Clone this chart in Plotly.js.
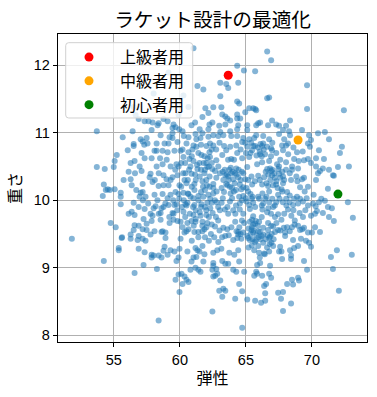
<!DOCTYPE html>
<html><head><meta charset="utf-8">
<script src="https://cdn.plot.ly/plotly-3.0.0.min.js"></script>
<style>html,body{margin:0;padding:0;background:#fff}</style></head>
<body><div id="c" style="width:377px;height:397px"></div>
<script>
const chartTitle="ラケット設計の最適化", xLabel="弾性", yLabel="重さ";
const xTicks=[55,60,65,70], yTicks=[8,9,10,11,12];
const specialNames=["上級者用","中級者用","初心者用"];
const specialColors=["red","orange","green"];
const specialX=[63.66,68.95,71.97];
const specialY=[11.85,10.89,10.09];
const upperRight=[[66.61,12.2],[66.91,12.07],[64.34,11.99],[64.85,11.92],[65.7,11.91],[64.42,11.74],[63.06,11.74],[63.51,11.72],[63.66,11.66],[69.63,11.7],[63.06,11.54],[66.61,11.51],[66.76,11.52],[64.34,11.46],[64.49,11.43],[62.53,11.375],[63.14,11.375],[65.25,11.36],[65.55,11.36],[65.7,11.35],[65.78,11.33],[69.63,11.35],[72.42,11.33],[64.95,11.3],
[63.21,11.27],[64.34,11.27],[63.44,11.24],[63.59,11.21],[64.34,11.21],[64.57,11.21],[63.81,11.18],[63.44,11.12],[62.46,11.15],[66.98,11.18],[68.34,11.18],[66.08,11.15],[65.93,11.14],[65.78,11.11],[67.29,11.12],[66.68,11.11],[67.51,11.1],[68.04,11.1],[65.1,11.11],[64.42,11.11],[62.98,11.1],[64.34,11.05],[65.1,11.04],[63.81,11.02],[63.06,11.01],[67.81,11.04],[68.27,11.02],[69.25,11.04],[67.51,10.98],[68.34,10.96],[70.46,10.99],[70.98,11.01],[69.78,10.96],[71.29,10.9],[69.93,10.89],[69.7,10.84],[66.76,10.9],[65.63,10.92],[65.25,10.9],[66.31,10.95],[65.78,10.96],[64.8,10.92],[64.34,10.95],[63.89,10.95],[63.29,10.96],[62.91,10.95],[62.53,10.96],[68.19,10.84],[68.04,10.81],[67.74,10.81],[66.31,10.84],[66.23,10.8],[65.55,10.8],[65.1,10.79],[64.72,10.86],[64.27,10.81],[63.81,10.79],[63.51,10.74],[62.53,10.81],[62.28,10.84],[66.91,10.77],[66.98,10.74],[67.81,10.74],[68.87,10.71],[69.85,10.79],[70.53,10.74],[72.27,10.79],[72.12,10.7],[70.91,10.61],[70.31,10.62],[69.7,10.61],[69.4,10.59],[68.65,10.61],[68.04,10.56],[67.36,10.53],[66.76,10.58],[66.23,10.56],[66.08,10.68],[65.47,10.74],[65.25,10.64],[64.72,10.62],[64.34,10.7],[63.89,10.61],[63.21,10.67],[62.76,10.59],[62.28,10.64],[69.93,10.55],[70.31,10.5],[72.8,10.5],[71.97,10.49],[71.29,10.45],[70.83,10.47],[70.61,10.43],[70.46,10.4],[71.59,10.37],[71.66,10.36],[69.4,10.33],[69.25,10.31],[70.31,10.3],[68.95,10.47],[68.49,10.45],[68.04,10.45],[67.51,10.5],[66.83,10.47],[66.61,10.46],[65.85,10.53],[65.1,10.49],[64.27,10.47],[63.74,10.45],[63.89,10.4],[63.44,10.37],[62.91,10.5],[62.46,10.46],[64.8,10.4],[64.95,10.31],[64.42,10.34],[64.04,10.31],[62.76,10.33],[63.51,10.24],[62.53,10.24],[65.93,10.36],[66.38,10.34],[66.98,10.37],[67.51,10.39],[68.42,10.3],[67.81,10.25],[67.29,10.23],[66.68,10.21],[66.23,10.23],[65.47,10.23],[64.8,10.19],[69.1,10.19],[71.21,10.17],
[62.41,10.55],[63.03,10.4],[62.66,10.43],[63.29,10.3],[63.66,10.35],[64.17,10.4],[63.79,10.2],[64.54,10.23],[65.17,10.3],[65.42,10.35],[65.68,10.28],[66.05,10.3],[66.56,10.25],[66.93,10.43],[67.19,10.33],[67.81,10.35],[68.32,10.4],[68.82,10.35],[62.53,10.18],[63.16,10.18],[65.05,10.18],
[62.53,10.1],[62.78,10.13],[63.34,10.12],[63.84,10.1],[64.09,10.13],[64.49,10.05],[64.8,10.06],[65.17,10.13],[65.35,10.09],[65.5,10.05],[65.93,10.05],[66.25,10.1],[66.56,10.05],[66.76,10.13],[67.44,10.08],[67.76,10.13],[68.12,10.12],[68.32,10.07],[68.87,10.05],[69.45,10.13],[70.13,10.08],[70.71,10.02],
[63.4,10.45],[63.55,10.38],[63.7,10.3],[63.85,10.48],[64,10.42],[64.15,10.25],[64.3,10.38],[64.45,10.45],[64.6,10.3],[64.7,10.42],[63.25,10.42],[63.6,10.22],[63.95,10.18],[64.25,10.15],[64.65,10.16],
[66.7,10.38],[66.85,10.3],[67,10.45],[67.15,10.4],[67.3,10.28],[67.45,10.46],[67.6,10.33],[67.75,10.42],[67.9,10.3],[66.5,10.42],[67.05,10.22],[67.4,10.18],[67.7,10.16],
[65.9,10.78],[66.05,10.72],[66.2,10.65],[66.35,10.75],[66.45,10.68],[65.8,10.66],[66.1,10.83],[66.6,10.79],[65.7,10.8],[65.35,10.7],[65,10.7],[64.6,10.75],[64.1,10.6],[63.65,10.6],[63.35,10.8],[63,10.85],[62.75,10.75],[62.4,10.75],[64.95,10.85],[65.4,10.85],[66.9,10.65],[67.3,10.7],[67.6,10.6],[68.2,10.68],[67,10.85],[67.9,10.9],[68.6,10.78],[68.5,10.5],[69,10.58],[69.3,10.72],[68.9,10.28],[69.7,10.2]];
const lowerRight=[[72.72,9.97],[73.1,9.74],[71.66,9.69],[71.29,9.75],[71.51,9.88],[71.21,9.9],[70.98,9.99],[70.83,9.81],[70.53,9.97],[70.38,9.84],[70.23,9.8],[69.93,9.77],[70.23,9.6],[70.61,9.53],[70,9.52],[69.7,9.52],[69.4,9.59],[69.1,9.56],[68.95,9.62],[68.49,9.6],[68.12,9.6],[67.97,9.52],[67.97,9.47],[67.44,9.56],[66.91,9.62],[66.68,9.66],[66.31,9.59],[66,9.68],[65.47,9.71],[64.87,9.66],[64.19,9.68],[63.59,9.57],[63.44,9.47],[62.91,9.38],[64.04,9.41],[64.42,9.53],[64.65,9.43],[65.1,9.47],[65.55,9.52],[66.31,9.49],[66.83,9.46],[67.21,9.53],[68.57,9.41],[69.17,9.43],[69.55,9.4],[69.78,9.37],[69.93,9.31],[68.95,9.32],[68.65,9.29],[68.34,9.26],[67.59,9.31],[67.51,9.24],[66.76,9.24],[66.38,9.21],[66,9.22],[65.63,9.26],[64.42,9.26],[64.12,9.19],[63.74,9.22],[63.14,9.28],[62.83,9.26],[62.53,9.22],[64.49,9.09],[63.66,9.06],[63.21,9.1],[63.44,9.06],[62.53,9.07],[62.53,9.03],[67.74,9.13],[68.42,9.18],[68.42,9.13],[69.4,9.1],[71.89,9.26],[71.44,9.16],[73.02,9.19],[71.59,8.98],[69.63,8.97],[66.83,9.03],[66.08,9.07],[65.85,9.04],[64.87,8.94],[64.27,8.94],[64.04,8.97],[62.76,8.98],[62.46,8.97],[62.83,8.91],[62.53,8.87],[62.68,8.88],[65.78,8.94],[65.85,8.91],[65.63,8.88],[66.23,8.88],[66.76,8.91],[66.91,8.85],[68.95,8.85],[68.49,8.82],[69.02,8.81],[68.12,8.76],[68.57,8.75],[66.53,8.76],[66.38,8.73],[63.06,8.81],[63.29,8.69],[62.98,8.66],[63.44,8.66],[64.49,8.76],[64.72,8.65],[66.46,8.62],[67.44,8.63],[67.81,8.64],[67.66,8.54],[68.42,8.47],[67.81,8.36],[72.04,8.66],[63.21,8.57],[64.19,8.54],[65.1,8.53],[65.7,8.51],[66.15,8.48],[66.46,8.51],[62.46,8.35],[64.72,8.11],
[62.41,9.96],[62.78,9.97],[63.16,9.96],[63.79,9.98],[64.54,9.95],[65.05,9.98],[65.55,9.96],[66.31,9.95],[66.76,9.97],[67.19,9.92],[68.07,9.92],[68.57,9.93],[68.95,9.95],[69.32,9.98],[69.7,9.92],[70.08,9.95],
[62.48,9.81],[62.73,9.75],[63.03,9.85],[63.41,9.86],[63.66,9.8],[64.04,9.85],[64.54,9.86],[64.8,9.8],[65.3,9.87],[65.55,9.76],[65.75,9.69],[66.25,9.86],[66.61,9.82],[67.06,9.9],[67.44,9.79],[67.69,9.71],[68.19,9.86],[68.44,9.77],[69.07,9.81],[69.32,9.75],[70.28,9.91],
[62.41,9.64],[62.66,9.61],[63.29,9.59],[64.29,9.54],[64.42,9.49],[64.8,9.52],[65.17,9.44],[65.42,9.56],[65.55,9.64],[65.93,9.54],[66.18,9.47],[66.68,9.56],[66.76,9.44],[67.06,9.61],[67.31,9.66],[67.87,9.59],[68.32,9.54],[68.69,9.64],[69.27,9.57],
[65.3,9.41],[65.68,9.38],[65.93,9.32],[66.31,9.37],[66.93,9.37],[67.06,9.32],[67.69,9.24],[66.05,9.15],[66.43,9.2],
[65.3,9.68],[65.45,9.6],[65.6,9.55],[65.7,9.65],[65.8,9.48],[65.9,9.62],[66.05,9.53],[66.1,9.42],[65.35,9.5],[65.5,9.42],[65.2,9.58],[65.75,9.4],[65.95,9.45],[66.5,9.42],[66.65,9.48],[66.8,9.35],[66.95,9.5],[67.1,9.42],[66.6,9.3],[65.2,9.3],[65.45,9.33],[64.5,9.6],[64.6,9.5],[64.35,9.44],[64.7,9.7],[64.2,9.8],[63.9,9.6],[63.7,9.48],[63.2,9.45],[63,9.55],[62.6,9.45],[62.35,9.5],[62.9,9.7],
[62.9,9.9],[63.25,10.03],[63.6,9.9],[63.95,10.03],[64.25,9.92],[64.7,10],[65,10.03],[65.25,9.93],[65.45,10.02],[65.7,9.9],[66,10.02],[66.2,9.92],[66.45,10.02],[66.7,9.88],[67,10.02],[67.3,9.97],[67.55,10.02],[67.8,9.97],[68.05,10.02],[68.3,9.97],[68.65,10.02],[69.1,10.02],[69.6,10.03],[67.9,9.8],[67.2,9.75],[66.9,9.8],[66.2,9.75],[68.6,9.85],[69.5,9.85],[62.3,10.02],[62.65,10],[68.7,9.7],[67.6,9.55]];
const lowerLeft=[[51.82,9.43],[54.24,9.1],[54.76,9.66],[55.14,9.6],[55.59,9.44],[55.62,9.45],[55.37,9.29],[55.37,9.26],[56.57,8.92],[57.25,9.04],[56.88,9.28],[57.33,9.23],[57.86,9.19],[57.86,9.15],[58.01,9.18],[58.39,9.18],[58.61,9.15],[59.07,9.19],[59.29,9.26],[58.76,9.25],[58.84,9.31],[59.59,9.24],[59.97,9.28],[59.74,9.1],[59.9,9.15],[58.26,8.98],[58.39,8.22],[59.97,8.64],[59.67,8.82],[60.2,8.76],[59.9,8.9],[60.12,8.91],[60.35,8.87],[60.5,8.82],[60.65,8.79],[60.8,8.97],[61.18,9],[61.56,8.94],[61.4,8.97],[61.78,9.09],[60.88,9.09],[61.03,9.15],[61.25,9.16],[61.86,9.2],[60.57,9.24],[61.18,9.29],[61.33,9.26],[61.48,9.24],[61.71,9.32],[60.05,9.43],[58.91,9.44],[58.91,9.52],[58.69,9.54],[58.61,9.53],[58.08,9.54],[57.78,9.49],[57.4,9.4],[57.18,9.43],[56.88,9.47],[56.8,9.41],[56.27,9.43],[56.27,9.49],[56.5,9.56],[56.57,9.63],[56.88,9.62],[57.18,9.57],[57.48,9.65],[57.48,9.56],[57.25,9.72],[57.86,9.69],[57.93,9.77],[57.78,9.8],[58.54,9.81],[58.54,9.71],[59.22,9.66],[59.52,9.71],[59.82,9.69],[60.05,9.68],[60.35,9.52],[60.65,9.57],[60.5,9.54],[61.1,9.53],[61.4,9.53],[61.71,9.54],[61.86,9.57],[62.01,9.6],[62.08,9.66],[61.71,9.68],[61.18,9.68],[60.88,9.69],[60.57,9.66],[61.03,9.78],[61.56,9.77],[62.01,9.78],[60.27,9.83],[59.52,9.8],[59.44,9.81],[58.61,9.88],[58.76,9.9],[58.16,9.91],[58.01,9.88],[57.33,9.87],[56.88,9.9],[56.5,9.96],[56.35,9.83],[56.12,9.8],[56.57,9.78],[55.52,9.94],[55.52,10.11],[55.52,10.05],[54.16,10.06],[54.39,10.15],[54.69,10.15],[56.95,10.05],[57.03,10.11],[57.18,10.12],[58.08,10.08],[58.69,10.09],[59.07,10.03],[59.29,10.08],[59.67,10.12],[59.9,10.09],[60.27,10.11],[59.59,9.93],[59.74,9.94],[60.42,9.94],[60.57,9.96],[61.1,9.93],[61.63,9.94],[62.08,9.96],[59.14,9.93],[61.03,10.03],[61.4,10.06],[61.78,10.05],[62.16,10.08],[60.65,10.09]];
const upperLeft=[[61.03,12.25],[53.71,11.02],[55.67,10.93],[59.14,11.89],[58.01,11.58],[60.27,11.55],[56.5,11.38],[56.65,11.26],[56.88,11.2],[57.33,11.17],[57.63,11.17],[57.93,11.15],[58.39,11.14],[58.76,11.2],[59.07,11.17],[59.52,11.12],[59.44,11.07],[59.67,11.08],[59.9,11.26],[60.65,11.38],[61.33,11.69],[61.78,11.64],[61.93,11.36],[61.71,11.23],[62.16,11.29],[60.88,11.11],[62.24,11.12],[62.16,11.05],[58.31,11.11],[57.86,11.04],[56.42,11.02],[59.44,10.99],[60.2,11.02],[58.54,10.96],[59.22,10.93],[57.03,10.9],[57.48,10.92],[57.18,10.87],[57.55,10.84],[56.5,10.83],[56.5,10.8],[56.05,10.74],[55.22,10.67],[55.06,10.58],[53.71,10.49],[54.31,10.46],[54.99,10.49],[56.27,10.55],[56.57,10.58],[57.1,10.7],[57.33,10.62],[57.86,10.62],[58.08,10.73],[58.24,10.73],[58.69,10.73],[59.07,10.71],[59.59,10.73],[60.05,10.73],[60.5,10.84],[61.03,10.81],[61.25,10.79],[61.4,10.7],[61.63,10.67],[61.86,10.65],[60.65,10.71],[60.27,10.64],[60.73,10.61],[59.74,10.53],[59.9,10.5],[58.24,10.5],[58.69,10.53],[56.95,10.5],[57.1,10.43],[57.78,10.39],[58.76,10.37],[58.99,10.31],[56.12,10.42],[55.74,10.3],[56.27,10.31],[54.24,10.23],[54.54,10.16],[55.06,10.16],[56.35,10.22],[57.18,10.24],[57.71,10.34],[57.93,10.27],[59.14,10.22],[59.82,10.37],[60.42,10.4],[60.88,10.39],[61.33,10.46],[61.86,10.4],[62.08,10.49],[61.1,10.24],[61.71,10.28],[60.5,10.25],[59.97,10.22],[59.44,10.34],[58.39,10.21],[58.76,10.22],[61.48,10.55],[61.03,10.58],[62.24,10.71],[62.01,10.8],[62.16,10.94],[61.56,10.92],[61.71,10.99],[61.18,10.98],[60.65,10.93],[59.82,10.86],[59.44,10.92],[58.84,10.84],[59.14,10.84],[58.24,10.84],
[60.3,10],[60.8,10.05],[61.2,9.85],[61.6,9.9],[62,9.85],[60.1,10.2],[60.6,10.3],[61.1,10.15],[61.5,10.35],[61.9,10.15],[60.4,10.55],[60.9,10.65],[61.3,10.52],[61.8,10.55],[62.1,10.62],[60.2,10.75],[60.7,10.45],[61.2,9.72],[61.7,9.62],[62.2,9.75],[60.5,9.92],[61,9.9],[61.5,9.82],[62,10.3],[61.4,10],[60.9,10.2],[61.9,10.45],
[60.2,9.6],[60.75,9.8],[60.15,9.9],[59.8,9.85],[59.2,9.75],[58.9,9.95],[58.4,9.8],[58.3,10],[57.6,9.95],[57.2,10],[56.7,10.15],[59.5,10],[59.95,10.02],[60.6,10.1],[61.2,10.3],[61.6,10.12],[62.05,10.22],[60.25,10.4],[59.65,10.45],[59.3,10.5],[59,10.6],[58.5,10.62],[60.35,10.3],[60.8,10.5],[61.6,10.45],[61.15,10.38],[61.75,10.2],[62.25,10.35],[61.25,10.9],[60.3,10.95],[59.95,11.05],[61.15,11.15],[61.5,11.05],[60.1,10.55],[59.3,10.3],[58.1,10.3],[57.4,10.05],[56.6,10.4],[58.4,10.4],[57.3,10.82],[60.4,9.75],[61.4,9.45],[60.9,9.4],[62.2,9.4],[61.9,9.45],[61.05,9.62],[61.9,9.9],[62.3,9.88],[62.25,10.2],[62.2,10.5],[62,10.55],[61.6,10.82],[60.95,10.75]];
const samples=[...upperRight,...lowerRight,...lowerLeft,...upperLeft];
const ff="'Noto Sans CJK JP'";
const traces=[{type:"scatter",mode:"markers",x:samples.map(p=>p[0]),y:samples.map(p=>p[1]),showlegend:false,hoverinfo:"skip",
 marker:{color:"#1f77b4",size:6,opacity:0.55,line:{width:0}}}];
specialNames.forEach((n,i)=>traces.push({type:"scatter",mode:"markers",name:n,x:[specialX[i]],y:[specialY[i]],
 marker:{color:specialColors[i],size:9,line:{width:0}}}));
const axisStyle={showline:true,mirror:true,linecolor:"black",linewidth:1.2,ticks:"outside",ticklen:4,tickcolor:"black",tickwidth:1,
 showgrid:true,gridcolor:"#b0b0b0",gridwidth:1,zeroline:false,tickfont:{family:"'Liberation Sans'",size:14.5,color:"#000"}};
const W=309,H=308,L=58,T=34;
const fx=p=>((p-L)/W).toFixed(4), fy=p=>(1-(p-T)/H).toFixed(4);
const a=65.7,b=192.7,c=42.7,d=118,r=3;
const box=`M${fx(a+r)},${fy(c)} L${fx(b-r)},${fy(c)} Q${fx(b)},${fy(c)} ${fx(b)},${fy(c+r)} L${fx(b)},${fy(d-r)} Q${fx(b)},${fy(d)} ${fx(b-r)},${fy(d)} L${fx(a+r)},${fy(d)} Q${fx(a)},${fy(d)} ${fx(a)},${fy(d-r)} L${fx(a)},${fy(c+r)} Q${fx(a)},${fy(c)} ${fx(a+r)},${fy(c)} Z`;
Plotly.newPlot("c",traces,{
 width:377,height:397,paper_bgcolor:"#fff",plot_bgcolor:"#fff",
 margin:{l:58,r:10,t:34,b:55},
 title:{text:chartTitle,font:{family:ff,size:19.7,color:"#000"},x:0.564,xanchor:"center",y:0.95,yanchor:"middle"},
 xaxis:{...axisStyle,range:[50.77,74.17],tickvals:xTicks,title:{text:xLabel,font:{family:ff,size:16,color:"#000"},standoff:6}},
 yaxis:{...axisStyle,range:[7.9,12.46],tickvals:yTicks,title:{text:yLabel,font:{family:ff,size:16,color:"#000"},standoff:8}},
 shapes:[{type:"path",xref:"paper",yref:"paper",layer:"above",path:box,fillcolor:"rgba(255,255,255,0.8)",line:{color:"#d0d0d0",width:1}}],
 legend:{x:0,y:0.98,xanchor:"left",yanchor:"top",bgcolor:"rgba(0,0,0,0)",borderwidth:0,
  font:{family:ff,size:16,color:"#000"},itemwidth:52,tracegroupgap:0}
},{displayModeBar:false,staticPlot:true});
</script></body></html>
